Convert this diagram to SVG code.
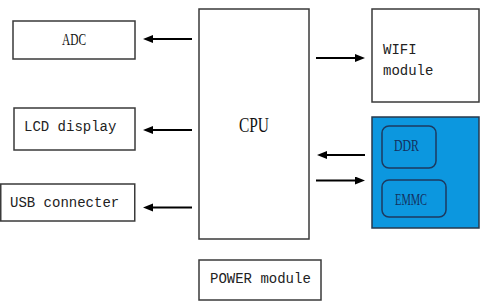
<svg xmlns="http://www.w3.org/2000/svg" width="489" height="303" viewBox="0 0 489 303">
<style>
.box{fill:#fff;stroke:#3a3a3a;stroke-width:1.5}
.mono{font-family:"Liberation Mono","DejaVu Sans Mono",monospace;font-size:14px;fill:#222}
.serif{font-family:"Liberation Serif","DejaVu Serif",serif;fill:#111}
.conn{stroke:#000;stroke-width:2;fill:none;marker-end:url(#ah)}
.inner{fill:#0c97df;stroke:#1d3a60;stroke-width:1.5}
.blue-t{font-family:"Liberation Serif","DejaVu Serif",serif;font-size:16px;fill:#14305e}
</style>
<defs>
<marker id="ah" markerUnits="userSpaceOnUse" markerWidth="12" markerHeight="10" refX="3" refY="4" orient="auto">
<path d="M0,0 L10,4 L0,8 z" fill="#000"/>
</marker>
</defs>
<rect width="489" height="303" fill="#fff"/>
<g id="adc"><rect class="box" x="13" y="21" width="122" height="38"/><text class="serif" x="74" y="45" text-anchor="middle" font-size="16" textLength="24" lengthAdjust="spacingAndGlyphs">ADC</text></g>
<g id="lcd"><rect class="box" x="14" y="108" width="121" height="42"/><text class="mono" x="24" y="131">LCD display</text></g>
<g id="usb"><rect class="box" x="0.75" y="184" width="134" height="37"/><text class="mono" x="10" y="207">USB connecter</text></g>
<g id="cpu"><rect class="box" x="199" y="9" width="110" height="230"/><text class="serif" x="254" y="132" text-anchor="middle" font-size="20" textLength="30" lengthAdjust="spacingAndGlyphs">CPU</text></g>
<g id="power"><rect class="box" x="199" y="260" width="122" height="40"/><text class="mono" x="210" y="283">POWER module</text></g>
<g id="wifi"><rect class="box" x="372" y="9" width="107" height="93"/><text class="mono" x="383" y="54">WIFI</text><text class="mono" x="383" y="75">module</text></g>
<g id="memory"><rect x="372" y="117" width="107" height="111" fill="#0c97df" stroke="#26384c" stroke-width="1.5"/>
<g id="ddr"><rect class="inner" x="382" y="126" width="54" height="42" rx="7"/><text class="blue-t" x="394" y="151" textLength="25" lengthAdjust="spacingAndGlyphs">DDR</text></g>
<g id="emmc"><rect class="inner" x="382" y="180" width="64" height="37" rx="7"/><text class="blue-t" x="395" y="205" textLength="32" lengthAdjust="spacingAndGlyphs">EMMC</text></g>
</g>
<g id="connectors">
<path class="conn" d="M192,39 H150"/>
<path class="conn" d="M192,130 H150"/>
<path class="conn" d="M192,207.5 H150"/>
<path class="conn" d="M316,58 H358"/>
<path class="conn" d="M365,155 H324"/>
<path class="conn" d="M316,180.5 H358"/>
</g>
</svg>
